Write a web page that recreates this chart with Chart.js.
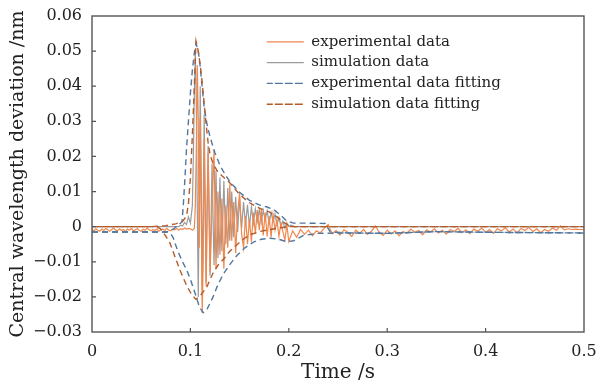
<!DOCTYPE html>
<html>
<head>
<meta charset="utf-8">
<script src="https://cdn.jsdelivr.net/npm/chart.js@4/dist/chart.umd.min.js"></script>
<style>
  html, body { margin: 0; padding: 0; background: #ffffff; }
  #wrap { width: 599px; height: 387px; position: relative; }
</style>
</head>
<body>
<div id="wrap"><canvas id="c" width="599" height="387"></canvas></div>
<script>
// ---------------- DATA ----------------
const seriesLabels = ['experimental data', 'simulation data', 'experimental data fitting', 'simulation data fitting'];

const xTickValues = [0, 0.1, 0.2, 0.3, 0.4, 0.5];
const xTickLabels = ['0', '0.1', '0.2', '0.3', '0.4', '0.5'];
const yTickValues = [-0.03, -0.02, -0.01, 0, 0.01, 0.02, 0.03, 0.04, 0.05, 0.06];
const yTickLabels = ['\u22120.03', '\u22120.02', '\u22120.01', '0', '0.01', '0.02', '0.03', '0.04', '0.05', '0.06'];

// experimental data (orange)
const expTime = [
  0, 0.002, 0.004, 0.006, 0.008, 0.010, 0.012, 0.014, 0.016, 0.018,
  0.020, 0.022, 0.024, 0.026, 0.028, 0.030, 0.032, 0.034, 0.036, 0.038,
  0.040, 0.042, 0.044, 0.046, 0.048, 0.050, 0.052, 0.054, 0.056, 0.058,
  0.060, 0.062, 0.064, 0.066, 0.068, 0.070, 0.072, 0.074, 0.076, 0.078,
  0.080, 0.082, 0.084, 0.086, 0.088, 0.090, 0.092, 0.094, 0.096, 0.098,
  0.100, 0.102, 0.104, 0.105, 0.106, 0.107, 0.108, 0.109, 0.110, 0.111,
  0.112, 0.113, 0.114, 0.115, 0.116, 0.117, 0.118, 0.119, 0.120, 0.122,
  0.124, 0.126, 0.128, 0.130, 0.132, 0.134, 0.136, 0.138, 0.140, 0.142,
  0.144, 0.146, 0.148, 0.150, 0.152, 0.154, 0.156, 0.158, 0.160, 0.162,
  0.164, 0.166, 0.168, 0.170, 0.172, 0.174, 0.176, 0.178, 0.180, 0.182,
  0.184, 0.186, 0.188, 0.190, 0.192, 0.194, 0.196, 0.198, 0.200, 0.204,
  0.208, 0.212, 0.216, 0.220, 0.224, 0.228, 0.232, 0.236, 0.240, 0.244,
  0.248, 0.252, 0.256, 0.260, 0.264, 0.268, 0.272, 0.276, 0.280, 0.284,
  0.288, 0.292, 0.296, 0.300, 0.304, 0.308, 0.312, 0.316, 0.320, 0.324,
  0.328, 0.332, 0.336, 0.340, 0.344, 0.348, 0.352, 0.356, 0.360, 0.364,
  0.368, 0.372, 0.376, 0.380, 0.384, 0.388, 0.392, 0.396, 0.400, 0.404,
  0.408, 0.412, 0.416, 0.420, 0.424, 0.428, 0.432, 0.436, 0.440, 0.444,
  0.448, 0.452, 0.456, 0.460, 0.464, 0.468, 0.472, 0.476, 0.480, 0.484,
  0.488, 0.492, 0.496, 0.500
];
const expValue = [
  -0.0008, -0.0012, -0.0006, -0.0010, -0.0013, -0.0007, -0.0011, -0.0005, -0.0009, -0.0013,
  -0.0008, -0.0004, -0.0010, -0.0012, -0.0006, -0.0011, -0.0008, -0.0014, -0.0007, -0.0010,
  -0.0005, -0.0012, -0.0009, -0.0006, -0.0011, -0.0013, -0.0007, -0.0010, -0.0004, -0.0009,
  -0.0012, -0.0008, -0.0011, -0.0006, -0.0013, -0.0009, -0.0007, -0.0011, -0.0005, -0.0010,
  -0.0012, -0.0007, -0.0009, -0.0005, -0.0010, -0.0006, -0.0008, -0.0004, -0.0007, -0.0005,
  -0.0006, -0.0010, -0.0005, 0.0060, 0.0220, 0.0460, 0.0300, -0.0060, 0.0310, 0.0040,
  -0.0245, -0.0100, 0.0250, 0.0040, -0.0170, 0.0060, 0.0210, 0.0020, -0.0130, 0.0050,
  0.0220, -0.0120, 0.0100, -0.0080, 0.0080, -0.0120, 0.0060, -0.0060, 0.0120, -0.0040,
  0.0070, -0.0075, 0.0040, 0.0095, -0.0020, -0.0060, 0.0030, -0.0050, 0.0020, -0.0043,
  0.0040, -0.0020, 0.0048, -0.0010, 0.0050, -0.0025, 0.0040, -0.0028, 0.0030, -0.0030,
  0.0035, -0.0010, 0.0020, -0.0028, 0.0010, -0.0015, -0.0038, 0.0005, -0.0042, -0.0012,
  -0.0030, -0.0008, -0.0022, -0.0010, -0.0026, -0.0012, -0.0018, -0.0004, 0.0006, -0.0020,
  -0.0011, -0.0024, -0.0009, -0.0016, -0.0028, -0.0010, -0.0019, -0.0008, -0.0022, -0.0013,
  0.0002, -0.0017, -0.0025, -0.0010, -0.0021, -0.0012, -0.0026, -0.0014, -0.0019, -0.0007,
  -0.0016, -0.0011, -0.0023, -0.0009, -0.0015, -0.0006, -0.0018, -0.0010, -0.0021, -0.0008,
  -0.0014, -0.0005, -0.0017, -0.0009, -0.0020, -0.0007, -0.0013, -0.0004, -0.0016, -0.0008,
  -0.0019, -0.0006, -0.0012, -0.0003, -0.0015, -0.0007, -0.0018, -0.0005, -0.0011, -0.0002,
  -0.0014, -0.0006, -0.0017, -0.0008, -0.0013, -0.0004, -0.0010, 0.0002, -0.0009, -0.0006,
  -0.0008, -0.0007, -0.0008, -0.0008
];

// simulation data (gray)
const simTime = [
  0, 0.050, 0.088, 0.090, 0.092, 0.094, 0.096, 0.098, 0.100, 0.102,
  0.103, 0.104, 0.105, 0.106, 0.107, 0.108, 0.109, 0.110, 0.111, 0.112,
  0.113, 0.114, 0.115, 0.116, 0.117, 0.118, 0.119, 0.120, 0.122, 0.124,
  0.126, 0.128, 0.130, 0.132, 0.134, 0.136, 0.138, 0.140, 0.142, 0.144,
  0.146, 0.148, 0.150, 0.152, 0.154, 0.156, 0.158, 0.160, 0.162, 0.164,
  0.166, 0.168, 0.170, 0.172, 0.174, 0.176, 0.178, 0.180, 0.182, 0.184,
  0.186, 0.188, 0.190, 0.192, 0.194, 0.196, 0.198, 0.200, 0.202, 0.206,
  0.500
];
const simValue = [
  0, 0, 0, 0.0004, 0.0002, 0.0012, 0.0006, 0.0028, 0.0010, 0.0060,
  0.0200, 0.0380, 0.0500, 0.0350, 0.0050, -0.0200, 0.0100, 0.0400, 0.0150, -0.0180,
  0.0050, 0.0320, 0.0080, -0.0160, 0.0040, 0.0230, 0.0060, -0.0140, 0.0180, -0.0110,
  0.0160, -0.0090, 0.0140, -0.0070, 0.0130, -0.0050, 0.0110, -0.0040, 0.0100, -0.0030,
  0.0085, -0.0015, 0.0080, -0.0005, 0.0070, 0.0005, 0.0062, 0.0000, 0.0056, 0.0010,
  0.0050, 0.0015, 0.0048, 0.0012, 0.0046, 0.0020, 0.0045, 0.0010, 0.0040, 0.0015,
  0.0036, 0.0005, 0.0026, 0.0000, 0.0016, -0.0004, 0.0010, 0.0000, 0.0004, 0,
  0
];

// experimental data fitting (blue dashed): upper and lower envelopes
const expFitUpperTime = [
  0, 0.076, 0.082, 0.088, 0.0915, 0.093, 0.0945, 0.096, 0.098, 0.100,
  0.102, 0.104, 0.1057, 0.108, 0.110, 0.112, 0.114, 0.117, 0.120, 0.125,
  0.130, 0.135, 0.140, 0.150, 0.160, 0.170, 0.178, 0.185, 0.192, 0.198,
  0.205, 0.220, 0.237, 0.242, 0.260, 0.300, 0.350, 0.400, 0.450, 0.500
];
const expFitUpperValue = [
  -0.0015, -0.0015, -0.0008, 0.0005, 0.0014, 0.0070, 0.0140, 0.0220, 0.0300, 0.0380,
  0.0445, 0.0495, 0.0522, 0.0500, 0.0455, 0.0395, 0.0340, 0.0290, 0.0255, 0.0210,
  0.0175, 0.0150, 0.0128, 0.0098, 0.0075, 0.0062, 0.0056, 0.0048, 0.0032, 0.0016,
  0.0010, 0.0010, 0.0009, -0.0015, -0.0018, -0.0019, -0.0014, -0.0016, -0.0017, -0.0018
];
const expFitLowerTime = [
  0, 0.077, 0.080, 0.0826, 0.0843, 0.088, 0.092, 0.0962, 0.100, 0.103,
  0.106, 0.109, 0.113, 0.117, 0.123, 0.128, 0.1335, 0.140, 0.147, 0.155,
  0.164, 0.172, 0.181, 0.190, 0.198, 0.205, 0.215, 0.230, 0.260, 0.300,
  0.350, 0.400, 0.450, 0.500
];
const expFitLowerValue = [
  -0.0015, -0.0015, -0.0020, -0.0032, -0.0047, -0.0075, -0.0100, -0.0123, -0.0150, -0.0175,
  -0.0200, -0.0228, -0.0245, -0.0235, -0.0200, -0.0165, -0.0135, -0.0108, -0.0083, -0.0061,
  -0.0044, -0.0036, -0.0033, -0.0036, -0.0043, -0.0040, -0.0025, -0.0019, -0.0018, -0.0019,
  -0.0014, -0.0016, -0.0017, -0.0018
];

// simulation data fitting (brown dashed): upper and lower envelopes
const simFitUpperTime = [
  0, 0.060, 0.075, 0.085, 0.092, 0.096, 0.098, 0.100, 0.102, 0.104,
  0.1057, 0.108, 0.110, 0.112, 0.114, 0.116, 0.118, 0.120, 0.123, 0.127,
  0.132, 0.140, 0.150, 0.160, 0.170, 0.180, 0.188, 0.195, 0.200, 0.205,
  0.500
];
const simFitUpperValue = [
  0, 0, 0.0003, 0.0008, 0.0015, 0.0030, 0.0065, 0.0140, 0.0260, 0.0400,
  0.0528, 0.0500, 0.0460, 0.0410, 0.0350, 0.0290, 0.0240, 0.0205, 0.0180, 0.0160,
  0.0145, 0.0125, 0.0092, 0.0068, 0.0053, 0.0042, 0.0028, 0.0012, 0.0003, 0,
  0
];
const simFitLowerTime = [
  0, 0.066, 0.070, 0.0745, 0.0793, 0.0836, 0.090, 0.0962, 0.101, 0.1055,
  0.110, 0.1166, 0.123, 0.128, 0.1335, 0.140, 0.147, 0.155, 0.1606, 0.170,
  0.181, 0.192, 0.200, 0.500
];
const simFitLowerValue = [
  0, 0, -0.0007, -0.0025, -0.0047, -0.0080, -0.0128, -0.0168, -0.0192, -0.0207,
  -0.0197, -0.0172, -0.0132, -0.0110, -0.0093, -0.0070, -0.0052, -0.0033, -0.0023, -0.0014,
  -0.0008, -0.0003, 0, 0
];

// ---------------- STYLE ----------------
const COLORS = { exp: '#f0884e', sim: '#9b9b9b', expFit: '#52779f', simFit: '#b45b2b' };
const DASH = [6, 4];
const SERIF = '"DejaVu Serif", "Liberation Serif", serif';

function pts(ts, vs) { return ts.map((t, i) => ({ x: t, y: vs[i] })); }

const legendRank = [0, 1, 2, 3, 4, 5];

const datasets = [
  { label: seriesLabels[0], data: pts(expTime, expValue), borderColor: COLORS.exp, borderWidth: 1.2, order: 2 },
  { label: seriesLabels[1], data: pts(simTime, simValue), borderColor: COLORS.sim, borderWidth: 1.2, order: 3 },
  { label: seriesLabels[2], data: pts(expFitUpperTime, expFitUpperValue), borderColor: COLORS.expFit, borderWidth: 1.4, borderDash: DASH, order: 1 },
  { label: seriesLabels[3], data: pts(simFitUpperTime, simFitUpperValue), borderColor: COLORS.simFit, borderWidth: 1.4, borderDash: DASH, order: 0 },
  { label: seriesLabels[2] + ' lower', data: pts(expFitLowerTime, expFitLowerValue), borderColor: COLORS.expFit, borderWidth: 1.4, borderDash: DASH, order: 1, hideInLegend: true },
  { label: seriesLabels[3] + ' lower', data: pts(simFitLowerTime, simFitLowerValue), borderColor: COLORS.simFit, borderWidth: 1.4, borderDash: DASH, borderDashOffset: 5, order: 0, hideInLegend: true }
];
datasets.forEach(d => { d.pointRadius = 0; d.fill = false; d.tension = 0; d.backgroundColor = d.borderColor; });

const LEGEND_X = 261;   // legend box left edge (px)
const LEGEND_Y = 28.5;  // legend box top edge (px)

const framePlugin = {
  id: 'frameAndTicks',
  afterLayout(chart) {
    const lg = chart.legend;
    if (lg) {
      const ca = chart.chartArea;
      lg.left = LEGEND_X;
      lg.top = LEGEND_Y;
      lg.right = lg.left + lg.width;
      lg.bottom = ca.bottom;
    }
  },
  afterDraw(chart) {
    const ctx = chart.ctx;
    const ca = chart.chartArea;
    ctx.save();
    ctx.strokeStyle = '#555555';
    ctx.lineWidth = 1.4;
    ctx.setLineDash([]);
    ctx.strokeRect(ca.left, ca.top, ca.right - ca.left, ca.bottom - ca.top);
    ctx.lineWidth = 1.2;
    const xs = chart.scales.x, ys = chart.scales.y;
    ctx.beginPath();
    xs.ticks.forEach(t => {
      const px = xs.getPixelForValue(t.value);
      if (px > ca.left + 1 && px < ca.right - 1) { ctx.moveTo(px, ca.bottom); ctx.lineTo(px, ca.bottom - 4); }
    });
    ys.ticks.forEach(t => {
      const py = ys.getPixelForValue(t.value);
      if (py > ca.top + 1 && py < ca.bottom - 1) { ctx.moveTo(ca.left, py); ctx.lineTo(ca.left + 4, py); }
    });
    ctx.stroke();
    ctx.restore();
  }
};

new Chart(document.getElementById('c'), {
  type: 'line',
  data: { datasets },
  options: {
    responsive: false,
    devicePixelRatio: 1,
    animation: false,
    events: [],
    layout: { padding: { top: 16, right: 15, left: 0, bottom: 0 } },
    plugins: {
      tooltip: { enabled: false },
      legend: {
        position: 'chartArea',
        align: 'start',
        labels: {
          boxWidth: 37,
          boxHeight: 0,
          padding: 5.8,
          color: '#222222',
          font: { family: SERIF, size: 15 },
          filter: (item, data) => !data.datasets[item.datasetIndex].hideInLegend,
          sort: (a, b) => legendRank[a.datasetIndex] - legendRank[b.datasetIndex]
        }
      }
    },
    scales: {
      x: {
        type: 'linear',
        min: 0, max: 0.5,
        afterBuildTicks: s => { s.ticks = xTickValues.map(v => ({ value: v })); },
        afterFit: s => { s.height = 55; s.paddingLeft = 0; s.paddingRight = 0; },
        grid: { display: false, drawTicks: false },
        border: { display: false },
        ticks: {
          padding: 10,
          color: '#222222',
          font: { family: SERIF, size: 16 },
          maxRotation: 0,
          autoSkip: false,
          callback: (v, i) => xTickLabels[i]
        },
        title: { display: true, text: 'Time /s', color: '#222222', font: { family: SERIF, size: 20 }, padding: { top: 0, bottom: 2 } }
      },
      y: {
        type: 'linear',
        min: -0.03, max: 0.06,
        afterBuildTicks: s => { s.ticks = yTickValues.map(v => ({ value: v })); },
        afterFit: s => { s.width = 92; s.paddingTop = 0; s.paddingBottom = 0; },
        grid: { display: false, drawTicks: false },
        border: { display: false },
        ticks: {
          padding: 10,
          color: '#222222',
          font: { family: SERIF, size: 16 },
          autoSkip: false,
          callback: (v, i) => yTickLabels[i]
        },
        title: { display: true, text: 'Central wavelength deviation /nm', color: '#222222', font: { family: SERIF, size: 19 }, padding: { top: 7, bottom: 0 } }
      }
    }
  },
  plugins: [framePlugin]
});
</script>
</body>
</html>
